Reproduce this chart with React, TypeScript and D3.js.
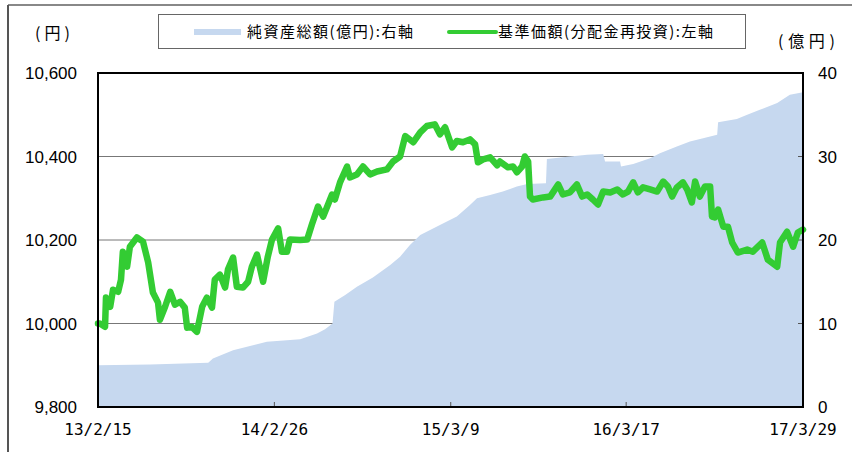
import React from "react";
import * as d3 from "d3";

// 基準価額（分配金再投資）: date / value (円)
const navDates = [
  "2013-02-15", "2013-02-19", "2013-03-02", "2013-03-04", "2013-03-13", "2013-03-19", "2013-03-30",
  "2013-04-05", "2013-04-09", "2013-04-18", "2013-04-24", "2013-05-09", "2013-05-22", "2013-06-02",
  "2013-06-12", "2013-06-23", "2013-06-27", "2013-07-08", "2013-07-19", "2013-07-29", "2013-08-09",
  "2013-08-19", "2013-08-24", "2013-09-03", "2013-09-14", "2013-09-25", "2013-10-05", "2013-10-16",
  "2013-10-22", "2013-11-02", "2013-11-13", "2013-11-19", "2013-11-30", "2013-12-08", "2013-12-21",
  "2014-01-01", "2014-01-09", "2014-01-20", "2014-02-02", "2014-02-12", "2014-02-21", "2014-03-06",
  "2014-03-14", "2014-03-25", "2014-03-31", "2014-04-22", "2014-05-07", "2014-05-17", "2014-05-30",
  "2014-06-10", "2014-06-29", "2014-07-05", "2014-07-16", "2014-07-31", "2014-08-06", "2014-08-21",
  "2014-09-03", "2014-09-18", "2014-10-03", "2014-10-24", "2014-11-06", "2014-11-21", "2014-12-02",
  "2014-12-19", "2015-01-03", "2015-01-17", "2015-02-03", "2015-02-14", "2015-02-25", "2015-03-12",
  "2015-03-22", "2015-04-04", "2015-04-19", "2015-04-30", "2015-05-06", "2015-05-17", "2015-06-01",
  "2015-06-16", "2015-06-22", "2015-07-09", "2015-07-20", "2015-07-28", "2015-08-08", "2015-08-14",
  "2015-08-21", "2015-08-25", "2015-08-31", "2015-09-22", "2015-10-07", "2015-10-13", "2015-10-24",
  "2015-11-03", "2015-11-18", "2015-12-03", "2015-12-14", "2015-12-25", "2016-01-06", "2016-01-17",
  "2016-01-28", "2016-02-12", "2016-02-27", "2016-03-10", "2016-03-21", "2016-04-01", "2016-04-11",
  "2016-04-22", "2016-05-07", "2016-05-22", "2016-06-04", "2016-06-14", "2016-06-23", "2016-07-03",
  "2016-07-16", "2016-07-25", "2016-08-04", "2016-08-11", "2016-08-21", "2016-09-01", "2016-09-12",
  "2016-09-16", "2016-09-22", "2016-09-29", "2016-10-10", "2016-10-20", "2016-10-29", "2016-11-10",
  "2016-11-30", "2016-12-12", "2017-01-01", "2017-01-13", "2017-02-02", "2017-02-08", "2017-02-23",
  "2017-03-08", "2017-03-18", "2017-03-29",
];
const navValues = [
  10000, 10000, 9992, 10062, 10040, 10081, 10076,
  10105, 10172, 10136, 10184, 10206, 10196, 10146,
  10074, 10050, 10009, 10040, 10076, 10045, 10052,
  10038, 9990, 9992, 9980, 10040, 10062, 10038,
  10105, 10117, 10086, 10129, 10158, 10088, 10086,
  10100, 10136, 10165, 10100, 10160, 10201, 10228,
  10172, 10172, 10201, 10200, 10201, 10237, 10280,
  10256, 10309, 10297, 10338, 10376, 10350, 10357,
  10376, 10357, 10364, 10369, 10388, 10400, 10449,
  10434, 10458, 10473, 10477, 10453, 10470, 10422,
  10437, 10434, 10441, 10429, 10386, 10393, 10398,
  10379, 10388, 10374, 10376, 10362, 10376, 10400,
  10388, 10304, 10297, 10302, 10304, 10314, 10333,
  10309, 10314, 10333, 10304, 10309, 10297, 10285,
  10316, 10314, 10321, 10309, 10316, 10338, 10314,
  10326, 10321, 10316, 10340, 10328, 10304, 10326,
  10338, 10321, 10290, 10340, 10304, 10328, 10328,
  10256, 10254, 10273, 10232, 10232, 10194, 10170,
  10177, 10172, 10194, 10153, 10136, 10194, 10220,
  10184, 10218, 10225,
];

// 純資産総額: date / value (億円)
const assetDates = [
  "2013-02-15", "2013-06-06", "2013-10-08", "2013-10-18", "2013-11-30", "2014-01-05", "2014-02-10",
  "2014-04-22", "2014-05-28", "2014-06-14", "2014-06-30", "2014-07-04", "2014-07-27", "2014-08-21",
  "2014-09-24", "2014-10-31", "2014-11-21", "2014-12-12", "2015-01-03", "2015-02-14", "2015-03-22",
  "2015-04-19", "2015-05-04", "2015-06-01", "2015-06-28", "2015-07-28", "2015-08-19", "2015-09-28",
  "2015-09-30", "2015-11-18", "2015-12-25", "2016-01-28", "2016-02-01", "2016-03-04", "2016-03-06",
  "2016-04-01", "2016-05-07", "2016-05-28", "2016-07-03", "2016-07-31", "2016-08-28", "2016-09-27",
  "2016-09-29", "2016-11-08", "2016-11-30", "2016-12-27", "2017-02-02", "2017-03-01", "2017-03-29",
];
const assetValues = [
  5.0, 5.1, 5.3, 5.8, 6.8, 7.3, 7.8,
  8.1, 8.8, 9.3, 10.0, 12.6, 13.4, 14.4,
  15.5, 17.0, 18.0, 19.4, 20.6, 21.8, 22.8,
  24.2, 25.0, 25.4, 25.8, 26.4, 26.7, 26.8,
  29.7, 30.0, 30.2, 30.3, 29.4, 29.4, 28.8,
  29.1, 29.8, 30.4, 31.2, 31.8, 32.2, 32.6,
  34.1, 34.5, 35.0, 35.6, 36.4, 37.4, 37.7,
];

const xTickDates = ["2013-02-15", "2014-02-26", "2015-03-09", "2016-03-17", "2017-03-29"];
const xTickLabels = ["13/2/15", "14/2/26", "15/3/9", "16/3/17", "17/3/29"];
const leftTicks = [9800, 10000, 10200, 10400, 10600];
const rightTicks = [0, 10, 20, 30, 40];
const gridTicks = [10000, 10200, 10400];

const legendAsset = "純資産総額(億円):右軸";
const legendNav = "基準価額(分配金再投資):左軸";

const W = 858;
const H = 452;
const M = { left: 98, right: 803, top: 73, bottom: 407 };
const FONT = "'Noto Sans CJK JP', 'Noto Sans', sans-serif";
const NUMFONT = "'Liberation Sans', Arial, sans-serif";
const MONO = "'DejaVu Sans Mono', monospace";

const parse = d3.timeParse("%Y-%m-%d");

export default function App() {
  const x = d3
    .scaleTime()
    .domain([parse("2013-02-15")!, parse("2017-03-29")!])
    .range([M.left, M.right]);
  const yL = d3.scaleLinear().domain([9800, 10600]).range([M.bottom, M.top]);
  const yR = d3.scaleLinear().domain([0, 40]).range([M.bottom, M.top]);

  const nav = navDates.map((d, i) => ({ date: parse(d)!, value: navValues[i] }));
  const assets = assetDates.map((d, i) => ({ date: parse(d)!, value: assetValues[i] }));

  const line = d3
    .line<{ date: Date; value: number }>()
    .x((d) => x(d.date))
    .y((d) => yL(d.value));
  const area = d3
    .area<{ date: Date; value: number }>()
    .x((d) => x(d.date))
    .y0(yR(0))
    .y1((d) => yR(d.value));

  return (
    <svg
      width={W}
      height={H}
      style={{ position: "absolute", left: 0, top: 0, background: "#fff" }}
    >
      {/* outer frame */}
      <line x1={8} x2={852} y1={5} y2={5} stroke="#888" strokeWidth={2} />
      <line x1={8} x2={8} y1={5} y2={H} stroke="#555" strokeWidth={2} />

      {/* legend */}
      <rect x={158.5} y={14.5} width={587} height={34} fill="#fff" stroke="#666" strokeWidth={1} />
      <rect x={194} y={29} width={47} height={6} fill="#C6D8EF" />
      <text x={247} y={37} fontFamily={FONT} fontSize={15} fill="#000" textLength={166} lengthAdjust="spacing">
        {legendAsset}
      </text>
      <line x1={449} x2={496} y1={32} y2={32} stroke="#33CC33" strokeWidth={4} strokeLinecap="round" />
      <text x={498} y={37} fontFamily={FONT} fontSize={15} fill="#000" textLength={215} lengthAdjust="spacing">
        {legendNav}
      </text>

      {/* unit labels */}
      <text x={35} y={39} fontFamily={FONT} fontSize={16} textLength={35} lengthAdjust="spacing">
        (円)
      </text>
      <text x={778} y={47} fontFamily={FONT} fontSize={16} textLength={57} lengthAdjust="spacing">
        (億円)
      </text>

      {/* gridlines */}
      {gridTicks.map((t) => (
        <line key={t} x1={M.left} x2={M.right} y1={yL(t)} y2={yL(t)} stroke="#777" strokeWidth={1} />
      ))}

      {/* net assets area */}
      <path d={area(assets) ?? ""} fill="#C6D8EF" />

      {/* bottom ticks */}
      {xTickDates.map((d) => (
        <line key={d} x1={x(parse(d)!)} x2={x(parse(d)!)} y1={M.bottom} y2={M.bottom - 5} stroke="#555" />
      ))}
      {/* right ticks */}
      {rightTicks.map((t) => (
        <line key={t} x1={M.right} x2={M.right - 5} y1={yR(t)} y2={yR(t)} stroke="#555" />
      ))}

      {/* NAV line */}
      <path
        d={line(nav) ?? ""}
        fill="none"
        stroke="#33CC33"
        strokeWidth={6.5}
        strokeLinejoin="round"
        strokeLinecap="round"
      />

      {/* plot frame */}
      <rect
        x={M.left}
        y={M.top}
        width={M.right - M.left}
        height={M.bottom - M.top}
        fill="none"
        stroke="#000"
        strokeWidth={2}
      />

      {/* left axis labels */}
      {leftTicks.map((t) => (
        <text key={t} x={77} y={yL(t) + 6} textAnchor="end" fontFamily={NUMFONT} fontSize={17}>
          {d3.format(",")(t)}
        </text>
      ))}
      {/* right axis labels */}
      {rightTicks.map((t) => (
        <text key={t} x={818} y={yR(t) + 6} fontFamily={NUMFONT} fontSize={17}>
          {t}
        </text>
      ))}
      {/* x labels */}
      {xTickDates.map((d, i) => (
        <text key={d} x={x(parse(d)!)} y={435} textAnchor="middle" fontFamily={MONO} fontSize={16}>
          {xTickLabels[i]}
        </text>
      ))}
    </svg>
  );
}
